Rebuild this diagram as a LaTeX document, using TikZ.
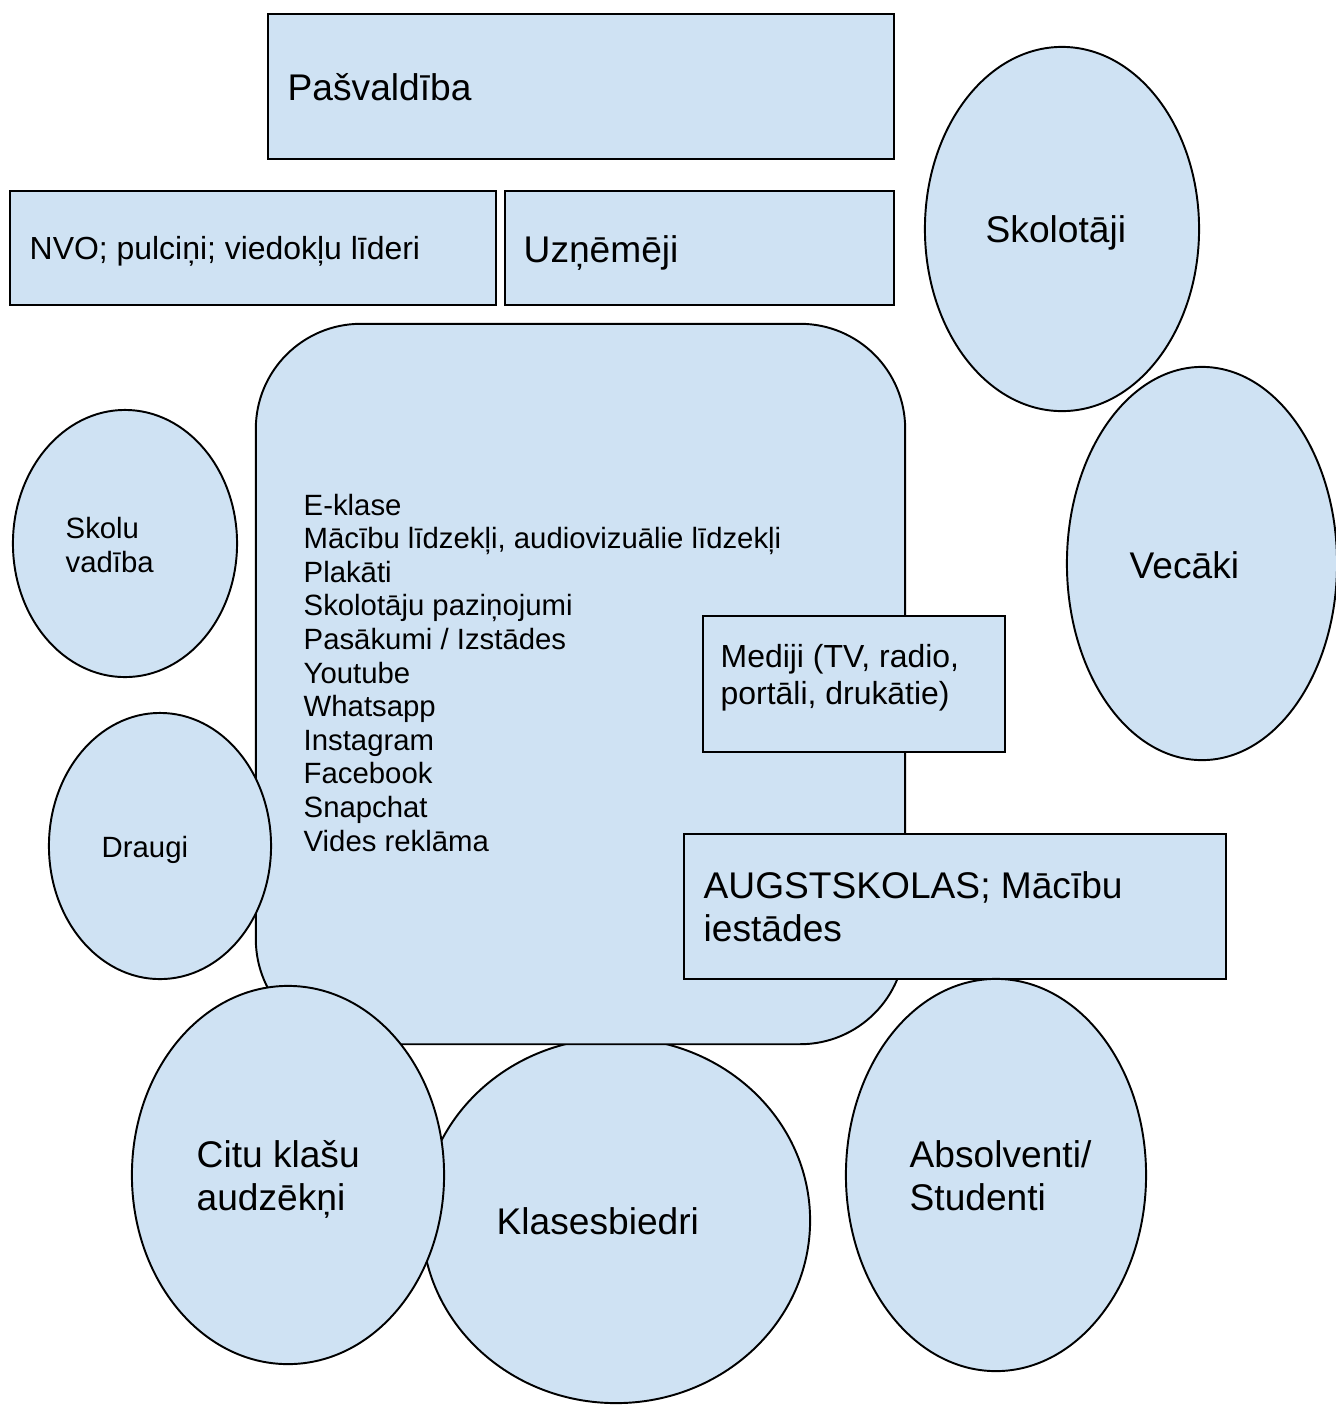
\documentclass[tikz,border=0pt]{standalone}
\usepackage{fontspec}
\setmainfont{Liberation Sans}
\usepackage{tikz}
\usetikzlibrary{shapes.geometric}
\definecolor{paleblue}{HTML}{CFE2F3}
\tikzset{
  boxA/.style={ draw, rectangle, fill=paleblue, line width=0.55pt, inner sep=0pt }
}
\tikzset{
  ovalA/.style={ draw, ellipse, fill=paleblue, line width=0.55pt, inner sep=0pt }
}
\tikzset{
  txtL/.style={ anchor=base west, inner sep=0pt, align=left, font=\fontsize{10.56}{12.1}\selectfont }
}
\tikzset{
  txtM/.style={ anchor=base west, inner sep=0pt, align=left, font=\fontsize{9.08}{10.44}\selectfont }
}
\tikzset{
  txtS/.style={ anchor=base west, inner sep=0pt, align=left, font=\fontsize{8.34}{9.55}\selectfont }
}
\begin{document}
\begin{tikzpicture}[x=0.01cm, y=-0.01cm]
      \useasboundingbox (0, 0) rectangle (1336, 1405);
      \node[boxA, minimum width=6.26cm, minimum height=1.45cm] (pasv) at (581, 86.5) {};
      \node[txtL] (pasvT) at (287, 100) {Pašvaldība};
      \node[boxA, minimum width=4.86cm, minimum height=1.14cm] (nvo) at (253, 248) {};
      \node[txtM] (nvoT) at (29, 259) {NVO; pulciņi; viedokļu līderi};
      \node[boxA, minimum width=3.89cm, minimum height=1.14cm] (uzn) at (699.5, 248) {};
      \node[txtL] (uznT) at (523, 262) {Uzņēmēji};

      \node[ovalA, minimum width=2.74cm, minimum height=3.64cm] (skolot) at (1062, 229) {};
      \node[txtL] (skolotT) at (985, 242) {Skolotāji};
      \node[ovalA, minimum width=2.70cm, minimum height=3.93cm] (vecaki) at (1202, 563.5) {};
      \node[txtL] (vecakiT) at (1129, 578) {Vecāki};
      \node[ovalA, minimum width=2.24cm, minimum height=2.67cm] (svad) at (125, 543.5) {};
      \node[txtS] (svadT) at (65, 572) {Skolu\\vadība};
      \node[ovalA, minimum width=3.88cm, minimum height=3.65cm] (klases) at (616, 1220.5) {};
      \node[txtL] (klasesT) at (496, 1234) {Klasesbiedri};

      \node[boxA, rounded corners=1.05cm, minimum width=6.49cm, minimum height=7.20cm] (kanali) at (580.5, 684) {};
      \node[txtS] (kanaliT) at (303, 851) {E-klase\\Mācību līdzekļi, audiovizuālie līdzekļi\\Plakāti\\Skolotāju paziņojumi\\Pasākumi / Izstādes\\Youtube\\Whatsapp\\Instagram\\Facebook\\Snapchat\\Vides reklāma};

      \node[ovalA, minimum width=2.22cm, minimum height=2.66cm] (draugi) at (160, 846) {};
      \node[txtS] (draugiT) at (101, 857) {Draugi};
      \node[ovalA, minimum width=3.12cm, minimum height=3.78cm] (citu) at (288, 1175) {};
      \node[txtL] (cituT) at (196, 1210) {Citu klašu\\audzēkņi};

      \node[boxA, minimum width=3.02cm, minimum height=1.36cm] (mediji) at (854, 684) {};
      \node[txtM] (medijiT) at (720, 704) {Mediji (TV, radio,\\portāli, drukātie)};
      \node[boxA, minimum width=5.42cm, minimum height=1.45cm] (augst) at (955, 906.5) {};
      \node[txtL] (augstT) at (703, 941) {AUGSTSKOLAS; Mācību\\iestādes};
      \node[ovalA, minimum width=3.00cm, minimum height=3.92cm] (absol) at (996, 1175) {};
      \node[txtL] (absolT) at (909, 1210) {Absolventi/\\Studenti};
    \end{tikzpicture}
\end{document}
